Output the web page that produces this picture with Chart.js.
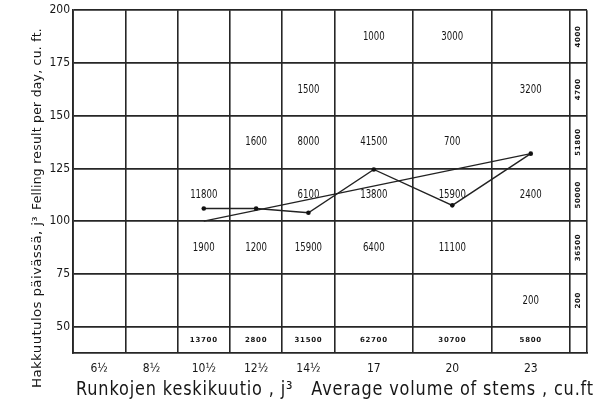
<!DOCTYPE html>
<html>
<head>
<meta charset="utf-8">
<script src="https://cdn.jsdelivr.net/npm/chart.js@4/dist/chart.umd.min.js"></script>
<style>
  html, body { margin: 0; padding: 0; background: #fff; }
  canvas { display: block; }
</style>
</head>
<body>
<canvas id="chart" width="601" height="403"></canvas>
<script>
// Stem volume classes (cu. ft.) and their labels
const volumeLabels = ['6½', '8½', '10½', '12½', '14½', '17', '20', '23'];
const volumeValues = [6.5, 8.5, 10.5, 12.5, 14.5, 17, 20, 23];
// Class boundaries along the volume axis, plus the edge of the totals column
const volumeClassEdges = [5.5, 7.5, 9.5, 11.5, 13.5, 15.5, 18.5, 21.5, 24.5];
const totalsColumnEdge = 25.15;

// Felling result per day (cu. ft.)
const fellingTicks = [50, 75, 100, 125, 150, 175, 200];
const fellingMin = 37.5;
const fellingMax = 200;

// Volume felled in each cell, one array per felling band (upper edge of band)
const bandUpperEdges = [200, 175, 150, 125, 100, 75];
const band175to200 = [null, null, null, null, null, 1000, 3000, null];
const band150to175 = [null, null, null, null, 1500, null, null, 3200];
const band125to150 = [null, null, null, 1600, 8000, 41500, 700, null];
const band100to125 = [null, null, 11800, null, 6100, 13800, 15900, 2400];
const band75to100  = [null, null, 1900, 1200, 15900, 6400, 11100, null];
const band50to75   = [null, null, null, null, null, null, null, 200];
const bandRows = [band175to200, band150to175, band125to150, band100to125, band75to100, band50to75];

// Totals per volume class (bottom row) and per felling band (right column)
const columnTotals = [null, null, 13700, 2800, 31500, 62700, 30700, 5800];
const bandTotals = [4000, 4700, 51800, 50000, 36500, 200];

// Mean felling result per volume class
const meanFelling = [null, null, 106, 106, 104, 124.5, 107.5, 132];
// Straight trend line through the class means
const trendVolume = [10.5, 23];
const trendFelling = [100, 132];

const INK = '#161616';
const GRID = '#262626';

function drawFitted(ctx, text, x, y, font, targetWidth, angle, spacing) {
  ctx.save();
  ctx.font = font;
  ctx.letterSpacing = (spacing || 0) + 'px';
  const w = ctx.measureText(text).width;
  ctx.translate(x, y);
  if (angle) ctx.rotate(angle);
  ctx.scale(targetWidth / w, 1);
  ctx.textAlign = 'left';
  ctx.textBaseline = 'middle';
  ctx.fillStyle = INK;
  ctx.fillText(text, 0, 0);
  ctx.restore();
}

function drawSqueezed(ctx, text, x, y, font, sx, angle, spacing) {
  ctx.save();
  ctx.font = font;
  ctx.letterSpacing = (spacing || 0) + 'px';
  ctx.translate(x, y);
  if (angle) ctx.rotate(angle);
  ctx.scale(sx, 1);
  ctx.textAlign = 'center';
  ctx.textBaseline = 'middle';
  ctx.fillStyle = INK;
  ctx.fillText(text, 0, 0);
  ctx.restore();
}

const cellTextPlugin = {
  id: 'cellText',
  beforeDatasetsDraw(chart) {
    const ctx = chart.ctx;
    const xs = chart.scales.x;
    const ys = chart.scales.y;
    // cell counts
    bandRows.forEach((row, r) => {
      const yc = ys.getPixelForValue(bandUpperEdges[r] - 12.5);
      row.forEach((v, c) => {
        if (v == null) return;
        drawSqueezed(ctx, String(v), xs.getPixelForValue(volumeValues[c]), yc,
          '13px "DejaVu Sans"', 0.66, 0, 0);
      });
    });
    // class totals along the bottom band
    const yTot = ys.getPixelForValue((fellingMin + fellingTicks[0]) / 2);
    columnTotals.forEach((v, c) => {
      if (v == null) return;
      drawSqueezed(ctx, String(v), xs.getPixelForValue(volumeValues[c]), yTot,
        'bold 7px "DejaVu Sans"', 1, 0, 0.7);
    });
    // band totals in the right-hand column
    const xTot = xs.getPixelForValue((volumeClassEdges[volumeClassEdges.length - 1] + totalsColumnEdge) / 2);
    bandTotals.forEach((v, r) => {
      drawSqueezed(ctx, String(v), xTot, ys.getPixelForValue(bandUpperEdges[r] - 12.5),
        'bold 7px "DejaVu Sans"', 1, -Math.PI / 2, 0.6);
    });
  },
  afterDraw(chart) {
    const ctx = chart.ctx;
    drawFitted(ctx, 'Runkojen keskikuutio , j³   Average volume of stems , cu.ft',
      76, 390, '19px "DejaVu Sans"', 518, 0, 1);
    drawFitted(ctx, 'Hakkuutulos päivässä, j³', 38, 388, '12px "DejaVu Sans"', 172, -Math.PI / 2, 0.3);
    drawFitted(ctx, 'Felling result per day, cu. ft.', 38, 210, '12px "DejaVu Sans"', 182, -Math.PI / 2, 0.3);
  }
};

const meanPoints = volumeValues
  .map((v, i) => ({ x: v, y: meanFelling[i] }))
  .filter(p => p.y != null);
const trendPoints = trendVolume.map((v, i) => ({ x: v, y: trendFelling[i] }));

const tickFont = { family: '"Liberation Sans Narrow", "DejaVu Sans Condensed", sans-serif', size: 12 };

new Chart(document.getElementById('chart'), {
  type: 'line',
  data: {
    datasets: [
      {
        data: meanPoints,
        borderColor: '#222',
        borderWidth: 1.4,
        pointRadius: 2.3,
        pointBackgroundColor: '#111',
        pointBorderWidth: 0,
        tension: 0,
        xAxisID: 'x',
        yAxisID: 'y'
      },
      {
        data: trendPoints,
        borderColor: '#222',
        borderWidth: 1.2,
        pointRadius: 0,
        tension: 0,
        xAxisID: 'x',
        yAxisID: 'y'
      }
    ]
  },
  options: {
    responsive: false,
    animation: false,
    devicePixelRatio: 1,
    layout: { padding: { top: 10, right: 14, left: 0, bottom: 0 } },
    plugins: { legend: { display: false }, tooltip: { enabled: false } },
    scales: {
      x: {
        type: 'linear',
        position: 'bottom',
        min: volumeClassEdges[0],
        max: totalsColumnEdge,
        afterBuildTicks: ax => { ax.ticks = volumeValues.map(v => ({ value: v })); },
        afterFit: ax => { ax.height = 50; },
        grid: { display: false },
        border: { display: true, color: GRID, width: 1.8 },
        ticks: {
          autoSkip: false,
          maxRotation: 0,
          padding: 1,
          color: INK,
          font: tickFont,
          callback: (value, index) => volumeLabels[index]
        }
      },
      xGrid: {
        type: 'linear',
        position: 'bottom',
        min: volumeClassEdges[0],
        max: totalsColumnEdge,
        afterBuildTicks: ax => {
          ax.ticks = volumeClassEdges.concat([totalsColumnEdge]).map(v => ({ value: v }));
        },
        afterFit: ax => { ax.height = 0; },
        grid: { display: true, color: GRID, lineWidth: 1.6, drawTicks: false },
        border: { display: false },
        ticks: { display: false }
      },
      y: {
        type: 'linear',
        min: fellingMin,
        max: fellingMax,
        afterBuildTicks: ax => { ax.ticks = fellingTicks.map(v => ({ value: v })); },
        afterFit: ax => { ax.width = 73; },
        grid: { color: GRID, lineWidth: 1.8, drawTicks: false },
        border: { display: true, color: GRID, width: 1.8 },
        ticks: {
          padding: 3,
          color: INK,
          font: tickFont
        }
      }
    }
  },
  plugins: [cellTextPlugin]
});
</script>
</body>
</html>
